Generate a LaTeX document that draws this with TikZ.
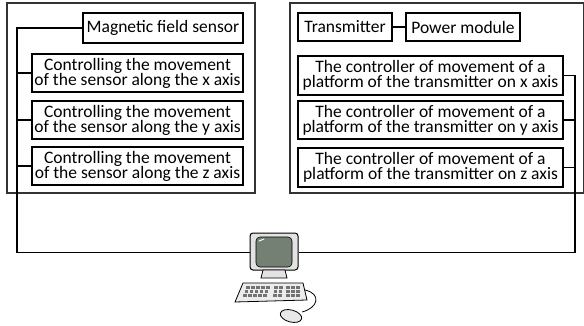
\documentclass[tikz,border=0pt]{standalone}
\usepackage{fontspec}
\setmainfont{Carlito}

\tikzset{
  block/.style={draw, line width=2.2pt, inner sep=1pt, align=center,
    font=\fontsize{17.5}{15}\selectfont},
  frame/.style={draw=black!80, line width=1.2pt},
  link/.style={line width=1.2pt}
}

\begin{document}
\lineskiplimit=-20pt
\begin{tikzpicture}[x=1pt,y=-1pt]
\useasboundingbox (0,0) rectangle (584,326);

\draw[frame] (7,3) rectangle (255,193);
\draw[frame] (290,3) rectangle (583.4,193);

\node[block, minimum width=160pt, minimum height=30pt] (sensor) at (163,28) {Magnetic field sensor};
\node[block, minimum width=211pt, minimum height=38pt] (movex) at (137.5,73) {Controlling the movement\\of the sensor along the x axis};
\node[block, minimum width=211pt, minimum height=38pt] (movey) at (137.5,120) {Controlling the movement\\of the sensor along the y axis};
\node[block, minimum width=211pt, minimum height=38pt] (movez) at (137.5,166) {Controlling the movement\\of the sensor along the z axis};

\node[block, minimum width=94pt, minimum height=28pt] (transmitter) at (345,27) {Transmitter};
\node[block, minimum width=114pt, minimum height=28pt] (power) at (463,27) {Power module};
\node[block, minimum width=265pt, minimum height=39pt] (platx) at (430.5,75.5) {The controller of movement of a\\platform of the transmitter on x axis};
\node[block, minimum width=265pt, minimum height=38pt] (platy) at (430.5,120) {The controller of movement of a\\platform of the transmitter on y axis};
\node[block, minimum width=265pt, minimum height=39pt] (platz) at (430.5,167.5) {The controller of movement of a\\platform of the transmitter on z axis};

\node[draw, line width=1pt, fill=gray!22, rounded corners=3pt, minimum width=48pt, minimum height=37pt] (monitor) at (274,251.5) {};
\fill[rounded corners=4pt, fill=black!50!green!10!gray, draw=black, line width=0.6pt] (256,237) rectangle (292,267);
\draw[white, line width=1pt, line cap=round] (259,241) -- (264,239);
\draw[line width=0.8pt, fill=gray!22] (263,270) -- (285,270) -- (287,278) -- (261,278) -- cycle;
\draw[line width=0.8pt, fill=gray!15] (243,283) -- (303,283) -- (307,300) -- (235,302) -- cycle;
\foreach \c in {0,...,4}
  \foreach \r in {0,1,2}
    \fill[black!55] (246+\c*5-\r*1.5,286+\r*4) rectangle ++(3.5,2.5);
\foreach \c in {0,1}
  \foreach \r in {0,1,2}
    \fill[black!55] (274+\c*5-\r*0.5,286+\r*4) rectangle ++(3.5,2.5);
\foreach \c in {0,...,2}
  \foreach \r in {0,1,2}
    \fill[black!55] (286+\c*5,286+\r*4) rectangle ++(3.5,2.5);
\draw[line width=0.8pt] (305,290) .. controls (322,294) and (318,308) .. (302,312);
\draw[line width=0.8pt, fill=gray!18, rotate around={-15:(291,316)}] (291,316) ellipse (11pt and 6pt);

\coordinate (leftbus) at (17,252.5);
\coordinate (rightbus) at (575,252.5);

\draw[link] (sensor.west) -| (leftbus) -- (monitor.west |- leftbus);
\draw[link] (movex.west) -- (movex.west -| leftbus);
\draw[link] (movey.west) -- (movey.west -| leftbus);
\draw[link] (movez.west) -- (movez.west -| leftbus);

\draw[link] (transmitter) -- (power);
\draw[link] (platx.east) -| (rightbus) -- (monitor.east |- rightbus);
\draw[link] (platy.east) -- (platy.east -| rightbus);
\draw[link] (platz.east) -- (platz.east -| rightbus);
\end{tikzpicture}
\end{document}
